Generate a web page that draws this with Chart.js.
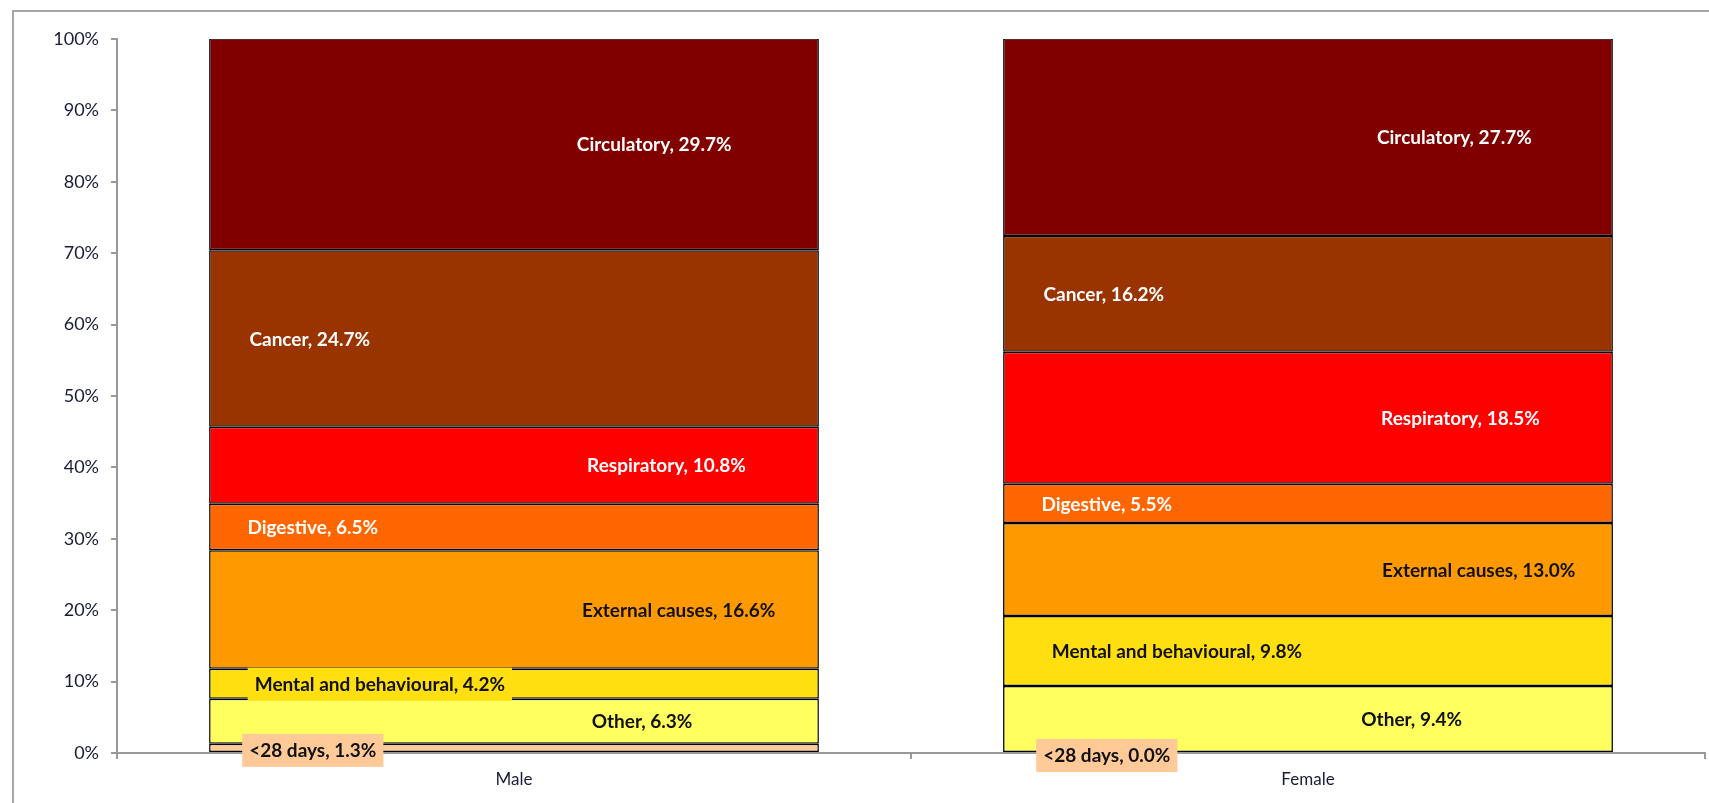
<!DOCTYPE html>
<html>
<head>
<meta charset="utf-8">
<script src="https://cdn.jsdelivr.net/npm/chart.js@4/dist/chart.umd.min.js"></script>
<style>
  html, body { margin: 0; padding: 0; background: #ffffff; overflow: hidden; }
  #wrap { position: relative; width: 1709px; height: 803px; }
  #frame { position: absolute; left: 12px; top: 10px; width: 1800px; height: 900px; border: 2px solid #a6a6a6; box-sizing: border-box; }
  canvas { position: absolute; left: 0; top: 0; }
</style>
</head>
<body>
<div id="wrap">
  <div id="frame"></div>
  <canvas id="c" width="1709" height="803"></canvas>
</div>
<script>
// ---- Data ----
const categories = ['Male', 'Female'];
const neonatal = [1.3, 0.0];       // <28 days
const other = [6.3, 9.4];
const mental = [4.2, 9.8];
const external = [16.6, 13.0];
const digestive = [6.5, 5.5];
const respiratory = [10.8, 18.5];
const cancer = [24.7, 16.2];
const circulatory = [29.7, 27.7];
const seriesNames = ['<28 days', 'Other', 'Mental and behavioural', 'External causes', 'Digestive', 'Respiratory', 'Cancer', 'Circulatory'];
const yTicks = [0, 10, 20, 30, 40, 50, 60, 70, 80, 90, 100];

// ---- Styles ----
const fills = ['#FFC998', '#FFFF60', '#FFDF10', '#FF9900', '#FF6600', '#FF0000', '#993300', '#800000'];
const labelColors = ['#111', '#111', '#111', '#111', '#fff', '#fff', '#fff', '#fff'];
// horizontal position of each data label as a fraction of the bar width, [male, female]
const labelFrac = [[0.17, 0.17], [0.71, 0.67], [0.28, 0.285], [0.77, 0.78], [0.17, 0.17], [0.75, 0.75], [0.165, 0.165], [0.73, 0.74]];

const allSeries = [neonatal, other, mental, external, digestive, respiratory, cancer, circulatory];

const datasets = allSeries.map((vals, i) => ({
  label: seriesNames[i],
  data: vals,
  backgroundColor: fills[i],
  borderColor: '#000',
  borderWidth: 1.5,
  borderSkipped: false,
  barPercentage: 0.768,
  categoryPercentage: 1.0
}));

const labelPlugin = {
  id: 'segLabels',
  afterDatasetsDraw(chart) {
    const ctx = chart.ctx;
    ctx.save();
    ctx.font = 'bold 19px Lato';
    ctx.textAlign = 'center';
    ctx.textBaseline = 'middle';
    chart.data.datasets.forEach((ds, di) => {
      const meta = chart.getDatasetMeta(di);
      meta.data.forEach((bar, idx) => {
        const p = bar.getProps(['x', 'y', 'base', 'width'], true);
        const left = p.x - p.width / 2;
        const lx = left + labelFrac[di][idx] * p.width;
        let ly = (p.y + p.base) / 2;
        if (di === 0) ly += 2;
        const text = ds.label + ', ' + Number(ds.data[idx]).toFixed(1) + '%';
        const w = ctx.measureText(text).width;
        const showBox = (di === 0) || (di === 2 && idx === 0);
        if (showBox) {
          ctx.fillStyle = fills[di];
          ctx.fillRect(lx - w / 2 - 7, ly - 16, w + 14, 33);
        }
        ctx.fillStyle = labelColors[di];
        ctx.fillText(text, lx, ly + 1);
      });
    });
    ctx.restore();
  }
};

new Chart(document.getElementById('c'), {
  type: 'bar',
  data: { labels: categories, datasets },
  plugins: [labelPlugin],
  options: {
    responsive: false,
    animation: false,
    layout: { padding: { left: 0, right: 4, top: 39, bottom: 0 } },
    plugins: { legend: { display: false }, tooltip: { enabled: false } },
    scales: {
      x: {
        stacked: true,
        grid: { display: true, drawOnChartArea: false, drawTicks: true, tickLength: 6, color: '#999', offset: true, lineWidth: 2 },
        border: { display: true, color: '#999', width: 2 },
        ticks: { color: '#1a1a3a', font: { family: 'Lato', size: 17 }, padding: 10 },
        afterFit(scale) { scale.height = 50; }
      },
      y: {
        stacked: true,
        min: 0,
        max: 100,
        afterBuildTicks(scale) { scale.ticks = yTicks.map(v => ({ value: v })); },
        grid: { display: true, drawOnChartArea: false, drawTicks: true, tickLength: 6, color: '#999', lineWidth: 2 },
        border: { display: true, color: '#999', width: 2 },
        ticks: { color: '#1a1a3a', font: { family: 'Lato', size: 18 }, padding: 12, callback: v => v + '%' },
        afterFit(scale) { scale.width = 117; }
      }
    }
  }
});
</script>
</body>
</html>
